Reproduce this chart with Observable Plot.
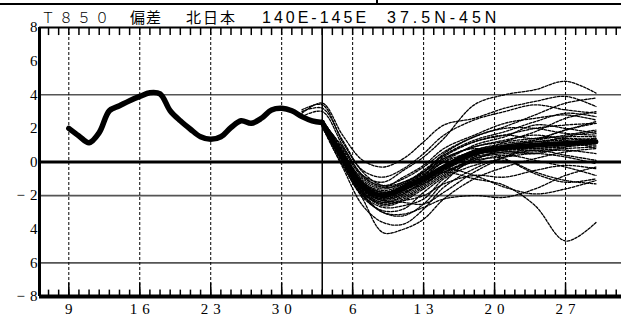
<!DOCTYPE html>
<html><head><meta charset="utf-8">
<script src="https://cdn.jsdelivr.net/npm/d3@7"></script>
<script src="https://cdn.jsdelivr.net/npm/@observablehq/plot@0.6"></script>
<style>
body{margin:0;background:#fff;width:621px;height:318px;overflow:hidden;position:relative}
#title{position:absolute;left:0;top:0;display:block;overflow:visible}
#chart{padding-top:26px}
#chart svg text{letter-spacing:5px}
</style></head><body>
<div id="chart"></div>
<svg id="title" width="621" height="31">
  <line x1="0" x2="621" y1="4" y2="4" stroke="#000" stroke-width="2"/>
  <line x1="377" x2="377" y1="0" y2="5" stroke="#000" stroke-width="2"/>
  <text x="41" y="23" font-family="Noto Sans CJK JP" font-size="14" font-weight="300" letter-spacing="4">Ｔ８５０</text>
  <text x="130" y="23" font-family="Noto Sans CJK JP" font-size="15" letter-spacing="1">偏差</text>
  <text x="186" y="23" font-family="Noto Sans CJK JP" font-size="15" letter-spacing="2">北日本</text>
  <text x="262" y="23" font-family="Liberation Sans" font-size="16" letter-spacing="3">140E-145E</text>
  <text x="387" y="23" font-family="Liberation Sans" font-size="16" letter-spacing="4">37.5N-45N</text>
</svg>
<script>
// observed (analysis) T850 anomaly, day index 0 = the 9th
const obsDays = [0,1,2,3,4,5,6,7,8,9,10,11,12,13,14,15,16,17,18,19,20,21,22,23,24,25];
const obsT850 = [2.0,1.55,1.15,1.75,3.05,3.35,3.65,3.9,4.12,4.05,3.05,2.45,1.95,1.5,1.35,1.5,2.05,2.45,2.3,2.6,3.1,3.2,3.05,2.7,2.45,2.35];
// forecast
const fcstDays = [23,25,27,29,31,33,35,37,40,43,46,49,52];
const meanT850 = [null,2.35,0.35,-1.45,-2.0,-1.55,-1.0,-0.3,0.55,0.85,1.0,1.1,1.2];
const members = [
 [null,2.4,0.9,-0.8,-1.2,-0.5,0.3,1.4,3.4,4.0,4.3,4.8,4.1],
 [2.9,3.5,1.6,0.1,-0.3,0.2,1.2,2.2,2.6,3.2,3.6,3.9,3.3],
 [null,2.3,0.4,-1.3,-1.8,-1.4,-0.9,-0.6,-1.0,-1.4,-2.6,-4.7,-3.6],
 [null,2.2,0.0,-2.2,-4.2,-4.0,-3.4,-2.2,-1.0,-0.3,0.2,0.6,0.8],
 [null,2.1,-0.3,-2.6,-3.6,-3.7,-2.8,-1.5,-0.4,0.3,0.7,0.4,0.1],
 [null,2.3,0.2,-1.9,-3.0,-3.2,-2.5,-1.2,0.3,1.2,1.8,2.6,3.0],
 [3.0,3.2,1.3,-0.6,-1.4,-1.2,-0.6,0.5,1.5,2.1,2.8,3.5,3.8],
 [null,2.4,0.6,-1.2,-1.8,-1.5,-0.8,0.3,1.2,1.6,1.4,1.9,2.4],
 [null,2.3,0.3,-1.5,-2.1,-1.6,-1.1,-0.4,0.4,0.8,1.1,1.2,1.2],
 [null,2.3,0.4,-1.4,-2.0,-1.5,-0.9,-0.2,0.6,0.9,1.0,1.2,1.3],
 [null,2.35,0.35,-1.5,-2.0,-1.6,-1.0,-0.3,0.5,0.8,1.0,1.1,1.2],
 [null,2.2,0.1,-1.7,-2.4,-2.0,-1.3,-0.5,0.4,0.7,0.9,1.0,1.0],
 [null,2.5,0.7,-1.1,-1.6,-1.2,-0.6,0.2,0.9,1.2,1.4,1.5,1.5],
 [null,2.3,0.5,-1.3,-1.9,-1.4,-0.7,0.0,0.6,0.7,0.8,0.9,1.1],
 [null,2.4,0.2,-1.6,-2.3,-1.9,-1.2,-0.5,0.3,0.6,0.7,0.8,0.9],
 [null,2.2,0.3,-1.8,-2.6,-2.3,-1.6,-0.8,0.2,0.5,0.6,0.7,0.5],
 [null,2.3,0.4,-1.2,-1.7,-1.3,-0.5,0.4,1.2,1.6,2.0,2.2,2.3],
 [null,2.4,0.5,-1.0,-1.5,-0.9,-0.2,0.8,1.6,2.3,2.6,2.8,2.5],
 [null,2.2,0.0,-1.9,-2.5,-2.3,-2.0,-1.3,-0.8,-0.9,-0.5,-0.2,-0.4],
 [null,2.1,-0.2,-2.0,-2.7,-2.6,-2.2,-1.0,-0.2,0.1,-0.6,-1.1,-1.3],
 [null,2.3,0.3,-1.6,-2.2,-1.8,-1.3,-0.6,0.0,0.4,0.1,-0.3,-0.8],
 [null,2.4,0.6,-1.3,-2.0,-1.7,-1.0,0.1,0.8,0.2,-0.7,-1.2,-1.0],
 [2.7,3.0,1.0,-0.8,-1.5,-1.3,-0.8,0.0,1.0,1.5,2.2,2.0,1.7],
 [null,2.3,0.2,-1.6,-2.2,-1.9,-1.1,-0.2,0.7,1.1,1.3,1.6,1.9],
 [null,2.2,0.1,-1.8,-2.5,-2.2,-1.5,-0.7,0.2,0.6,0.5,0.9,1.4],
 [null,2.4,0.5,-1.4,-2.0,-1.4,-0.6,0.4,1.3,1.8,2.4,2.9,2.7],
 [null,2.3,0.3,-1.5,-2.1,-1.7,-0.9,-0.4,-0.8,-1.5,-1.9,-1.6,-1.1],
 [null,2.2,0.2,-1.7,-2.3,-2.4,-2.5,-1.8,-0.6,0.3,1.0,1.5,1.8],
 [null,2.3,0.4,-1.3,-1.8,-1.5,-0.8,0.2,0.9,1.3,1.6,1.3,0.8],
 [null,2.5,0.8,-0.9,-1.4,-1.0,-0.3,0.6,1.5,2.0,2.0,1.7,1.6],
 [null,2.3,0.1,-1.8,-2.4,-2.1,-1.4,-0.6,0.1,0.3,0.5,0.3,-0.1],
 [null,2.3,0.3,-1.6,-2.2,-1.8,-1.2,-0.4,0.4,1.0,1.2,1.4,1.3],
 [3.1,3.4,1.2,-0.5,-0.9,-0.4,0.5,1.6,2.5,3.0,3.4,3.1,2.9],
 [null,2.2,-0.1,-2.1,-2.9,-2.8,-1.8,-0.9,0.1,0.8,1.3,1.9,2.3],
 [null,2.3,0.4,-1.4,-1.9,-1.5,-1.0,-0.3,0.5,0.8,0.8,1.0,1.3],
 [null,2.3,0.3,-1.5,-2.1,-1.7,-1.1,-0.2,0.7,1.0,1.2,1.3,1.4],
 [null,2.2,0.0,-2.0,-3.0,-3.1,-2.7,-2.2,-2.0,-2.1,-1.6,-0.8,-0.3]
];
const initDay = 25;
// axes
const xTickDays = [0,7,14,21,28,35,42,49];
const xTickLabels = ["9","16","23","30","6","13","20","27"];
const yTickVals = [8,6,4,2,0,-2,-4,-6,-8];
const yTickLabels = ["8","6","4","2","0","−2","4","6","−8"];
const yGrid = [4,-2,-6];

const xMin = -2.89, xMax = 54.52;
const dayTicks = d3.range(-2, 55);

const obs = obsDays.map((d,i)=>({day:d, v:obsT850[i]}));
const mean = fcstDays.map((d,i)=>({day:d, v:meanT850[i]}));
const mem = members.flatMap((vals,m)=>fcstDays.map((d,i)=>({day:d, v:vals[i], m})));

const chart = Plot.plot({
  width: 621, height: 292,
  marginTop: 1, marginBottom: 22, marginLeft: 39, marginRight: 0,
  x: {domain: [xMin, xMax], axis: null},
  y: {domain: [-8, 8], axis: null},
  style: {background: "white", overflow: "visible"},
  marks: [
    Plot.ruleY(yGrid, {stroke: "#555", strokeWidth: 1.6}),
    Plot.ruleX(xTickDays, {stroke: "#000", strokeWidth: 1, strokeDasharray: "3,2"}),
    Plot.ruleX([initDay], {stroke: "#000", strokeWidth: 1.5}),
    Plot.ruleY([0], {stroke: "#000", strokeWidth: 3}),
    Plot.line(mem, {x: "day", y: "v", z: "m", curve: "catmull-rom", stroke: "#000", strokeWidth: 1.3, strokeDasharray: "2.5,1.5"}),
    Plot.line(mean, {x: "day", y: "v", curve: "catmull-rom", stroke: "#000", strokeWidth: 5, strokeLinejoin: "round", strokeLinecap: "round"}),
    Plot.line(obs, {x: "day", y: "v", curve: "catmull-rom", stroke: "#000", strokeWidth: 5.5, strokeLinejoin: "round", strokeLinecap: "round"}),
    // ticks
    Plot.ruleX(dayTicks, {x: d=>d, y1: -8, y2: -7.62, stroke: "#000", strokeWidth: 1.5}),
    Plot.ruleX(xTickDays, {x: d=>d, y1: -8, y2: -7.2, stroke: "#000", strokeWidth: 1.5}),
    Plot.ruleX(dayTicks, {x: d=>d, y1: 8, y2: 7.52, stroke: "#000", strokeWidth: 1.5}),
    // frame
    Plot.ruleY([8], {stroke: "#000", strokeWidth: 2}),
    Plot.ruleY([-8], {stroke: "#000", strokeWidth: 4}),
    Plot.ruleX([xMin], {stroke: "#000", strokeWidth: 3}),
    // labels
    Plot.text(xTickDays, {x: d=>d, y: -8, text: (d,i)=>xTickLabels[i], dy: 13, dx: 2.5, fontSize: 15, fontFamily: "Liberation Serif", fill: "#000"}),
    Plot.text(yTickVals, {x: xMin, y: d=>d, text: (d,i)=>yTickLabels[i], textAnchor: "end", dx: 3, fontSize: 15, fontFamily: "Liberation Serif", fill: "#000"})
  ]
});
document.getElementById("chart").append(chart);
</script></body></html>
